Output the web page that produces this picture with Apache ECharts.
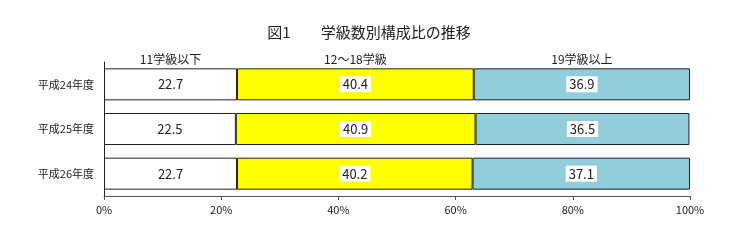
<!DOCTYPE html>
<html><head><meta charset="utf-8">
<script src="https://cdn.jsdelivr.net/npm/echarts@6/dist/echarts.min.js"></script>
<style>html,body{margin:0;padding:0;background:#fff}#c{width:740px;height:243px}</style>
</head><body><div id="c"></div>
<script>
const categories = ['平成24年度', '平成25年度', '平成26年度'];
const seriesNames = ['11学級以下', '12～18学級', '19学級以上'];
const small = [22.7, 22.5, 22.7];
const medium = [40.4, 40.9, 40.2];
const large = [36.9, 36.5, 37.1];
const xTicks = [0, 20, 40, 60, 80, 100];
const titleText = '図1　　学級数別構成比の推移';

const values = [small, medium, large];
const colors = ['#ffffff', '#ffff00', '#92cddc'];
const font = '"Noto Sans CJK JP", "Liberation Sans", sans-serif';

const series = values.map((arr, i) => {
  const start = values.slice(0, i).reduce((s, a) => s + a[0], 0);
  return {
    name: seriesNames[i],
    type: 'bar',
    stack: 'total',
    barWidth: 32,
    data: arr,
    itemStyle: { color: colors[i], borderColor: '#222', borderWidth: 1 },
    label: {
      show: true, position: 'inside', color: '#222', fontSize: 13, fontFamily: font,
      backgroundColor: i === 0 ? 'transparent' : '#ffffff', padding: [2, 3, 1, 3],
      formatter: p => p.value.toFixed(1)
    },
    markPoint: {
      symbol: 'rect',
      symbolSize: 1,
      silent: true,
      itemStyle: { color: 'rgba(0,0,0,0)' },
      data: [{ coord: [start + arr[0] / 2, categories[0]], name: seriesNames[i] }],
      label: {
        show: true, position: 'inside', offset: [0, -25], color: '#222', fontSize: 12,
        fontFamily: font, formatter: seriesNames[i]
      }
    }
  };
});

const chart = echarts.init(document.getElementById('c'), null, { renderer: 'canvas' });
chart.setOption({
  animation: false,
  title: {
    text: titleText, left: 364, textAlign: 'center', top: 20,
    textStyle: { fontSize: 15, fontWeight: 'normal', color: '#222', fontFamily: font }
  },
  grid: { left: 104, right: 50, top: 62, bottom: 47 },
  xAxis: {
    type: 'value', min: 0, max: 100, interval: 20,
    axisLine: { show: true, lineStyle: { color: '#555' } },
    axisTick: { show: true, length: 4, lineStyle: { color: '#555' } },
    splitLine: { show: false },
    axisLabel: { formatter: v => xTicks.includes(v) ? v + '%' : '', color: '#222', fontSize: 11, fontFamily: font, margin: 8 }
  },
  yAxis: {
    type: 'category', data: categories, inverse: true,
    axisLine: { show: true, lineStyle: { color: '#222' } },
    axisTick: { show: false },
    axisLabel: { color: '#222', fontSize: 11, fontFamily: font, margin: 10 }
  },
  series: series
});
</script></body></html>
